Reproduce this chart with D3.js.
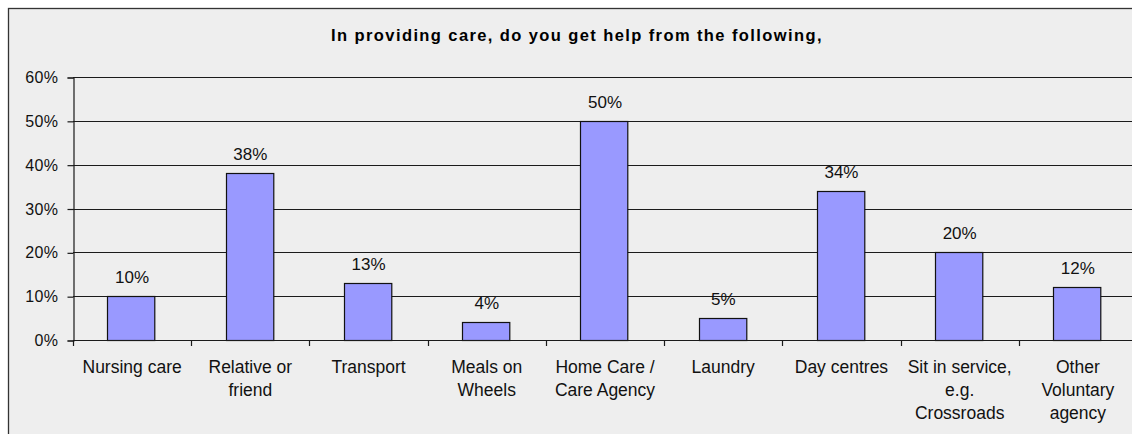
<!DOCTYPE html>
<html>
<head>
<meta charset="utf-8">
<script src="https://cdn.jsdelivr.net/npm/d3@7"></script>
<style>
  html, body { margin: 0; padding: 0; background: #ffffff; }
  svg { display: block; }
  text { font-family: "Liberation Sans", Arial, sans-serif; fill: #111; }
</style>
</head>
<body>
<svg id="chart" width="1132" height="434"></svg>
<script>
// Survey: sources of help when providing care
const title = "In providing care, do you get help from the following,";
const categories = [
  "Nursing care",
  "Relative or friend",
  "Transport",
  "Meals on Wheels",
  "Home Care / Care Agency",
  "Laundry",
  "Day centres",
  "Sit in service, e.g. Crossroads",
  "Other Voluntary agency"
];
// Wrapped category labels (one array of lines per category)
const categoryLines = [
  ["Nursing care"],
  ["Relative or", "friend"],
  ["Transport"],
  ["Meals on", "Wheels"],
  ["Home Care /", "Care Agency"],
  ["Laundry"],
  ["Day centres"],
  ["Sit in service,", "e.g.", "Crossroads"],
  ["Other", "Voluntary", "agency"]
];
const values = [0.10, 0.38, 0.13, 0.04, 0.50, 0.05, 0.34, 0.20, 0.12];
const yTicks = [0, 0.1, 0.2, 0.3, 0.4, 0.5, 0.6];

const svg = d3.select("#chart");
const W = 1132, H = 434;

// chart area (light grey panel with dark frame)
svg.append("rect")
  .attr("x", 8.5).attr("y", 8.5)
  .attr("width", W + 20).attr("height", H + 20)
  .attr("fill", "#eeeeee")
  .attr("stroke", "#333")
  .attr("stroke-width", 1.3);

const plot = { left: 73, right: 1137, top: 77, bottom: 340 };

const x = d3.scaleBand()
  .domain(categories)
  .range([plot.left, plot.right])
  .paddingInner(0.6)
  .paddingOuter(0.3);

const xCat = d3.scaleBand()
  .domain(categories)
  .range([plot.left, plot.right])
  .padding(0);

const y = d3.scaleLinear()
  .domain([0, 0.6])
  .range([plot.bottom, plot.top]);

// title
svg.append("text")
  .attr("x", 577)
  .attr("y", 41)
  .attr("text-anchor", "middle")
  .style("font-size", "16.5px")
  .style("font-weight", "bold")
  .style("letter-spacing", "1.4px")
  .style("fill", "#000")
  .text(title);

// horizontal gridlines
svg.append("g")
  .selectAll("line")
  .data(yTicks.slice(1))
  .join("line")
  .attr("x1", plot.left)
  .attr("x2", plot.right)
  .attr("y1", d => Math.round(y(d)) + 0.5)
  .attr("y2", d => Math.round(y(d)) + 0.5)
  .attr("stroke", "#1a1a1a")
  .attr("stroke-width", 1.2);

// y axis
const yAxis = d3.axisLeft(y)
  .tickValues(yTicks)
  .tickFormat(d3.format(".0%"))
  .tickSize(6)
  .tickPadding(9);

const gy = svg.append("g")
  .attr("transform", `translate(${plot.left + 0.5},0.5)`)
  .call(yAxis);
gy.select(".domain").attr("stroke", "#1a1a1a").attr("stroke-width", 1.2);
gy.selectAll(".tick line").attr("stroke", "#1a1a1a").attr("stroke-width", 1.2);
gy.selectAll(".tick text")
  .style("font-size", "16px")
  .style("letter-spacing", "0.4px")
  .style("font-family", "'Liberation Sans', Arial, sans-serif")
  .attr("fill", "#111");

// bars
svg.append("g")
  .selectAll("rect")
  .data(values)
  .join("rect")
  .attr("x", (d, i) => Math.round(x(categories[i])) - 0.5)
  .attr("y", d => Math.round(y(d)) + 0.5)
  .attr("width", x.bandwidth())
  .attr("height", d => y(0) - Math.round(y(d)))
  .attr("fill", "#9999ff")
  .attr("stroke", "#111")
  .attr("stroke-width", 1.2);

// value labels
svg.append("g")
  .selectAll("text")
  .data(values)
  .join("text")
  .attr("x", (d, i) => x(categories[i]) + x.bandwidth() / 2)
  .attr("y", d => y(d) - 13)
  .attr("text-anchor", "middle")
  .style("font-size", "17px")
  .text(d => d3.format(".0%")(d));

// x axis baseline and boundary ticks
svg.append("line")
  .attr("x1", plot.left).attr("x2", plot.right)
  .attr("y1", plot.bottom + 0.5).attr("y2", plot.bottom + 0.5)
  .attr("stroke", "#1a1a1a")
  .attr("stroke-width", 1.2);

svg.append("g")
  .selectAll("line")
  .data(categories)
  .join("line")
  .attr("x1", d => Math.round(xCat(d)) + 0.5)
  .attr("x2", d => Math.round(xCat(d)) + 0.5)
  .attr("y1", plot.bottom)
  .attr("y2", plot.bottom + 6)
  .attr("stroke", "#1a1a1a")
  .attr("stroke-width", 1.2);

// category labels
const catG = svg.append("g")
  .selectAll("text")
  .data(categoryLines)
  .join("text")
  .attr("x", (d, i) => xCat(categories[i]) + xCat.bandwidth() / 2)
  .attr("y", 373)
  .attr("text-anchor", "middle")
  .style("font-size", "17.5px");

catG.selectAll("tspan")
  .data(d => d)
  .join("tspan")
  .attr("x", function () { return d3.select(this.parentNode).attr("x"); })
  .attr("dy", (d, j) => j === 0 ? 0 : 23)
  .text(d => d);
</script>
</body>
</html>
